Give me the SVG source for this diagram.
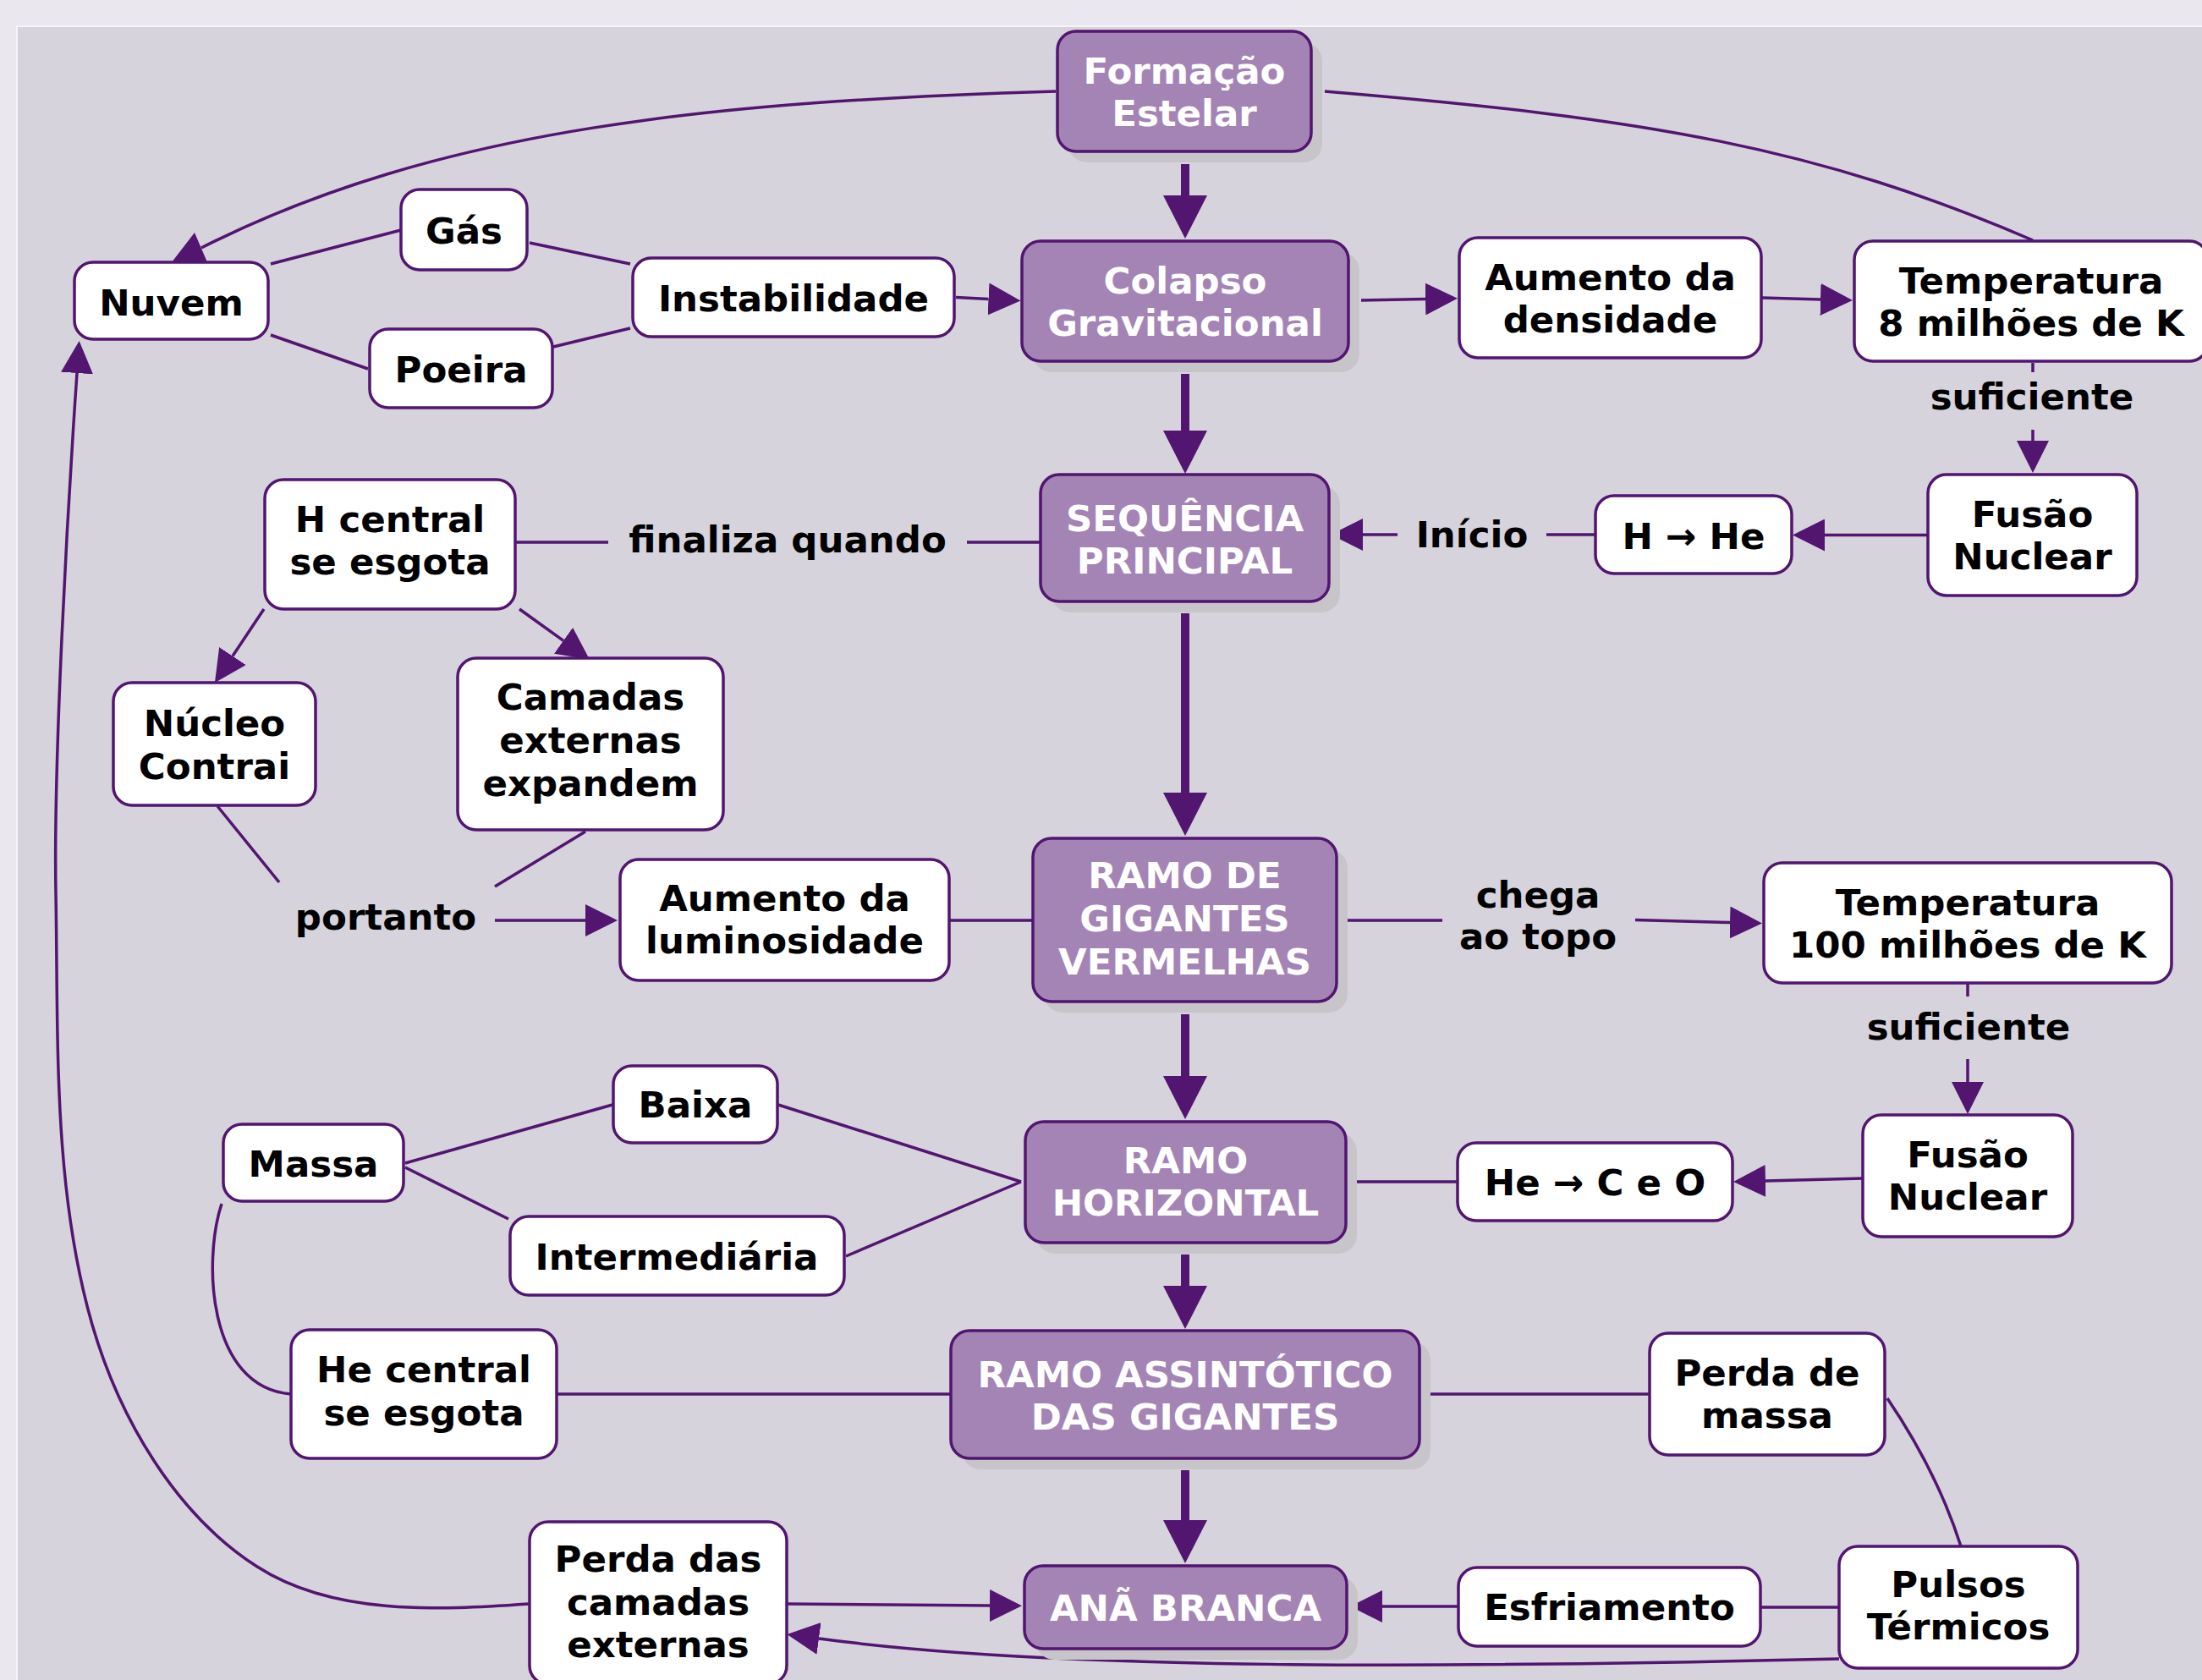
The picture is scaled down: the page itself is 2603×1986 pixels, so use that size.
<svg xmlns="http://www.w3.org/2000/svg" width="2603" height="1986" viewBox="0 0 2603 1986">
<style>
.bg{fill:#ebe7ef}
.panel{fill:#d6d3dc;stroke:#f6f4f8;stroke-width:2}
.node rect.b{stroke:#521570;stroke-width:3.5}
.w rect.b{fill:#ffffff}
.p rect.b{fill:#a384b5}
.sh{fill:#c7c5ca}
text{font-family:"DejaVu Sans","Liberation Sans",sans-serif;font-weight:bold;font-size:43.5px;text-anchor:middle}
.w text{fill:#000000}
.p text{fill:#ffffff}
.lbl{fill:#000000}
.c path{stroke:#521570;stroke-width:3.5;fill:none}
.c path.k{stroke-width:10}
.c polygon{fill:#521570}
</style>
<defs>
<marker id="a" markerUnits="userSpaceOnUse" markerWidth="38" markerHeight="38" viewBox="0 0 38 38" refX="0" refY="19" orient="auto"><path d="M0,0 L38,19 L0,38 Z" fill="#521570"/></marker>
<marker id="ak" markerUnits="userSpaceOnUse" markerWidth="52" markerHeight="52" viewBox="0 0 51 52" refX="0" refY="26" orient="auto"><path d="M0,0 L51,26 L0,52 Z" fill="#521570"/></marker>
</defs>
<rect class="bg" x="0" y="0" width="2603" height="1986"/>
<rect class="panel" x="20" y="31" width="2600" height="1970"/>

<g id="connectors" class="c">
<path class="k" d="M1401,194 L1401,231" marker-end="url(#ak)"/>
<path class="k" d="M1401,442 L1401,509" marker-end="url(#ak)"/>
<path class="k" d="M1401,725 L1401,937" marker-end="url(#ak)"/>
<path class="k" d="M1401,1199 L1401,1272" marker-end="url(#ak)"/>
<path class="k" d="M1401,1483 L1401,1520" marker-end="url(#ak)"/>
<path class="k" d="M1401,1738 L1401,1797" marker-end="url(#ak)"/>
<path d="M1248,108 C850,120 520,150 238,293"/>
<polygon points="203,310 245,310 230,275"/>
<path d="M1566,108 C1950,140 2150,175 2403,284"/>
<path d="M320,312 L474,272"/>
<path d="M320,396 L435,436"/>
<path d="M626,287 L745,312"/>
<path d="M654,410 L745,388"/>
<path d="M1130,351.5 L1168.5,353.5" marker-end="url(#a)"/>
<path d="M1609,355 L1685,353.5" marker-end="url(#a)"/>
<path d="M2083,352 L2152,354" marker-end="url(#a)"/>
<path d="M2403,429 L2403,440"/>
<path d="M2403,508 L2403,521" marker-end="url(#a)"/>
<path d="M2279,632.5 L2157,632.5" marker-end="url(#a)"/>
<path d="M1886,632 L1828,632"/>
<path d="M1652,632 L1611,632" marker-end="url(#a)"/>
<path d="M1230,641 L1143,641"/>
<path d="M719,641 L609,641"/>
<path d="M312,720 L275,775.5" marker-end="url(#a)"/>
<path d="M614,720 L666,757.3" marker-end="url(#a)"/>
<path d="M257,953 L330,1043"/>
<path d="M692,983 L585,1048"/>
<path d="M585,1088 L692,1088" marker-end="url(#a)"/>
<path d="M1122,1088 L1221,1088"/>
<path d="M1580,1088 L1705,1088"/>
<path d="M1933,1087.5 L2045,1090.5" marker-end="url(#a)"/>
<path d="M2326,1162 L2326,1178"/>
<path d="M2326,1252 L2326,1279" marker-end="url(#a)"/>
<path d="M2202,1393 L2087,1396" marker-end="url(#a)"/>
<path d="M1591,1397 L1723,1397"/>
<path d="M920,1306 L1207,1397"/>
<path d="M1000,1485 L1207,1397"/>
<path d="M479,1375 L724,1306"/>
<path d="M479,1380 L601,1441"/>
<path d="M262,1423 C240,1490 245,1640 344,1648"/>
<path d="M658,1648 L1124,1648"/>
<path d="M1678,1648 L1950,1648"/>
<path d="M2231,1653 Q2290,1740 2318,1828"/>
<path d="M2174,1900 L2081,1900"/>
<path d="M1724,1899 L1634,1899" marker-end="url(#a)"/>
<path d="M930,1896 L1170,1898" marker-end="url(#a)"/>
<path d="M2174,1961 C1700,1972 1250,1975 968,1937" marker-end="url(#a)"/>
<path d="M625,1896 C518,1903.5 394,1910 304,1852 C207,1790 141,1676 109,1566 C62,1403 69,1226 66,1056 C63,900 80,600 91,441" marker-end="url(#a)"/>
</g>

<g id="n-formacao" class="node p"><rect class="sh" x="1263" y="50" width="300" height="142" rx="22"/><rect class="b" x="1250" y="37" width="300" height="142" rx="22"/><text x="1400" y="99">Formação</text><text x="1400" y="149">Estelar</text></g>
<g id="n-colapso" class="node p"><rect class="sh" x="1221" y="298" width="386" height="142" rx="22"/><rect class="b" x="1208" y="285" width="386" height="142" rx="22"/><text x="1401" y="347">Colapso</text><text x="1401" y="397">Gravitacional</text></g>
<g id="n-nuvem" class="node w"><rect class="b" x="88" y="310" width="229" height="91" rx="22"/><text x="202.5" y="373">Nuvem</text></g>
<g id="n-gas" class="node w"><rect class="b" x="474" y="224" width="149" height="95" rx="22"/><text x="548.5" y="288">Gás</text></g>
<g id="n-poeira" class="node w"><rect class="b" x="437" y="389" width="216" height="93" rx="22"/><text x="545" y="452">Poeira</text></g>
<g id="n-instabilidade" class="node w"><rect class="b" x="748" y="305" width="380" height="93" rx="22"/><text x="938" y="368">Instabilidade</text></g>
<g id="n-densidade" class="node w"><rect class="b" x="1725" y="281" width="357" height="142" rx="22"/><text x="1903.5" y="343">Aumento da</text><text x="1903.5" y="393">densidade</text></g>
<g id="n-temp8" class="node w"><rect class="b" x="2192" y="285" width="418" height="142" rx="22"/><text x="2401" y="347">Temperatura</text><text x="2401" y="397">8 milhões de K</text></g>
<g id="n-fusao1" class="node w"><rect class="b" x="2279" y="561" width="247" height="143" rx="22"/><text x="2402.5" y="623">Fusão</text><text x="2402.5" y="673">Nuclear</text></g>
<g id="n-hhe" class="node w"><rect class="b" x="1886" y="586" width="232" height="92" rx="22"/><text x="2002" y="649">H → He</text></g>
<g id="n-sequencia" class="node p"><rect class="sh" x="1243" y="574" width="341" height="150" rx="22"/><rect class="b" x="1230" y="561" width="341" height="150" rx="22"/><text x="1400.5" y="628">SEQUÊNCIA</text><text x="1400.5" y="678">PRINCIPAL</text></g>
<g id="n-hcentral" class="node w"><rect class="b" x="313" y="567" width="296" height="153" rx="22"/><text x="461" y="629">H central</text><text x="461" y="679">se esgota</text></g>
<g id="n-nucleo" class="node w"><rect class="b" x="134" y="807" width="239" height="145" rx="22"/><text x="253.5" y="870">Núcleo</text><text x="253.5" y="921">Contrai</text></g>
<g id="n-camadas" class="node w"><rect class="b" x="541" y="778" width="314" height="203" rx="22"/><text x="698" y="839">Camadas</text><text x="698" y="890">externas</text><text x="698" y="941">expandem</text></g>
<g id="n-luminosidade" class="node w"><rect class="b" x="733" y="1016" width="389" height="143" rx="22"/><text x="927.5" y="1077">Aumento da</text><text x="927.5" y="1127">luminosidade</text></g>
<g id="n-gigantes" class="node p"><rect class="sh" x="1234" y="1004" width="359" height="193" rx="22"/><rect class="b" x="1221" y="991" width="359" height="193" rx="22"/><text x="1400.5" y="1050">RAMO DE</text><text x="1400.5" y="1101">GIGANTES</text><text x="1400.5" y="1152">VERMELHAS</text></g>
<g id="n-temp100" class="node w"><rect class="b" x="2085" y="1020" width="482" height="142" rx="22"/><text x="2326" y="1082">Temperatura</text><text x="2326" y="1132">100 milhões de K</text></g>
<g id="n-fusao2" class="node w"><rect class="b" x="2202" y="1318" width="248" height="144" rx="22"/><text x="2326" y="1380">Fusão</text><text x="2326" y="1430">Nuclear</text></g>
<g id="n-heco" class="node w"><rect class="b" x="1723" y="1351" width="325" height="92" rx="22"/><text x="1885.5" y="1413">He → C e O</text></g>
<g id="n-horizontal" class="node p"><rect class="sh" x="1225" y="1339" width="379" height="143" rx="22"/><rect class="b" x="1212" y="1326" width="379" height="143" rx="22"/><text x="1401.5" y="1387">RAMO</text><text x="1401.5" y="1437">HORIZONTAL</text></g>
<g id="n-massa" class="node w"><rect class="b" x="264" y="1329" width="213" height="91" rx="22"/><text x="370.5" y="1391">Massa</text></g>
<g id="n-baixa" class="node w"><rect class="b" x="725" y="1260" width="194" height="91" rx="22"/><text x="822" y="1321">Baixa</text></g>
<g id="n-intermediaria" class="node w"><rect class="b" x="603" y="1438" width="395" height="93" rx="22"/><text x="800" y="1501">Intermediária</text></g>
<g id="n-hecentral" class="node w"><rect class="b" x="344" y="1572" width="314" height="152" rx="22"/><text x="501" y="1634">He central</text><text x="501" y="1685">se esgota</text></g>
<g id="n-assintotico" class="node p"><rect class="sh" x="1137" y="1586" width="554" height="151" rx="22"/><rect class="b" x="1124" y="1573" width="554" height="151" rx="22"/><text x="1401" y="1640">RAMO ASSINTÓTICO</text><text x="1401" y="1690">DAS GIGANTES</text></g>
<g id="n-perdamassa" class="node w"><rect class="b" x="1950" y="1576" width="278" height="144" rx="22"/><text x="2089" y="1638">Perda de</text><text x="2089" y="1688">massa</text></g>
<g id="n-pulsos" class="node w"><rect class="b" x="2174" y="1828" width="282" height="144" rx="22"/><text x="2315" y="1888">Pulsos</text><text x="2315" y="1938">Térmicos</text></g>
<g id="n-esfriamento" class="node w"><rect class="b" x="1724" y="1853" width="357" height="93" rx="22"/><text x="1902.5" y="1915">Esfriamento</text></g>
<g id="n-ana" class="node p"><rect class="sh" x="1224" y="1864" width="381" height="98" rx="22"/><rect class="b" x="1211" y="1851" width="381" height="98" rx="22"/><text x="1401.5" y="1916">ANÃ BRANCA</text></g>
<g id="n-perdacamadas" class="node w"><rect class="b" x="626" y="1799" width="304" height="192" rx="22"/><text x="778" y="1858">Perda das</text><text x="778" y="1909">camadas</text><text x="778" y="1959">externas</text></g>

<g id="labels">
<text class="lbl" x="2402" y="484">suficiente</text>
<text class="lbl" x="931" y="653">finaliza quando</text>
<text class="lbl" x="1740" y="647">Início</text>
<text class="lbl" x="456" y="1099">portanto</text>
<text class="lbl" x="1818" y="1073">chega</text>
<text class="lbl" x="1818" y="1122">ao topo</text>
<text class="lbl" x="2327" y="1229">suficiente</text>
</g>
</svg>
